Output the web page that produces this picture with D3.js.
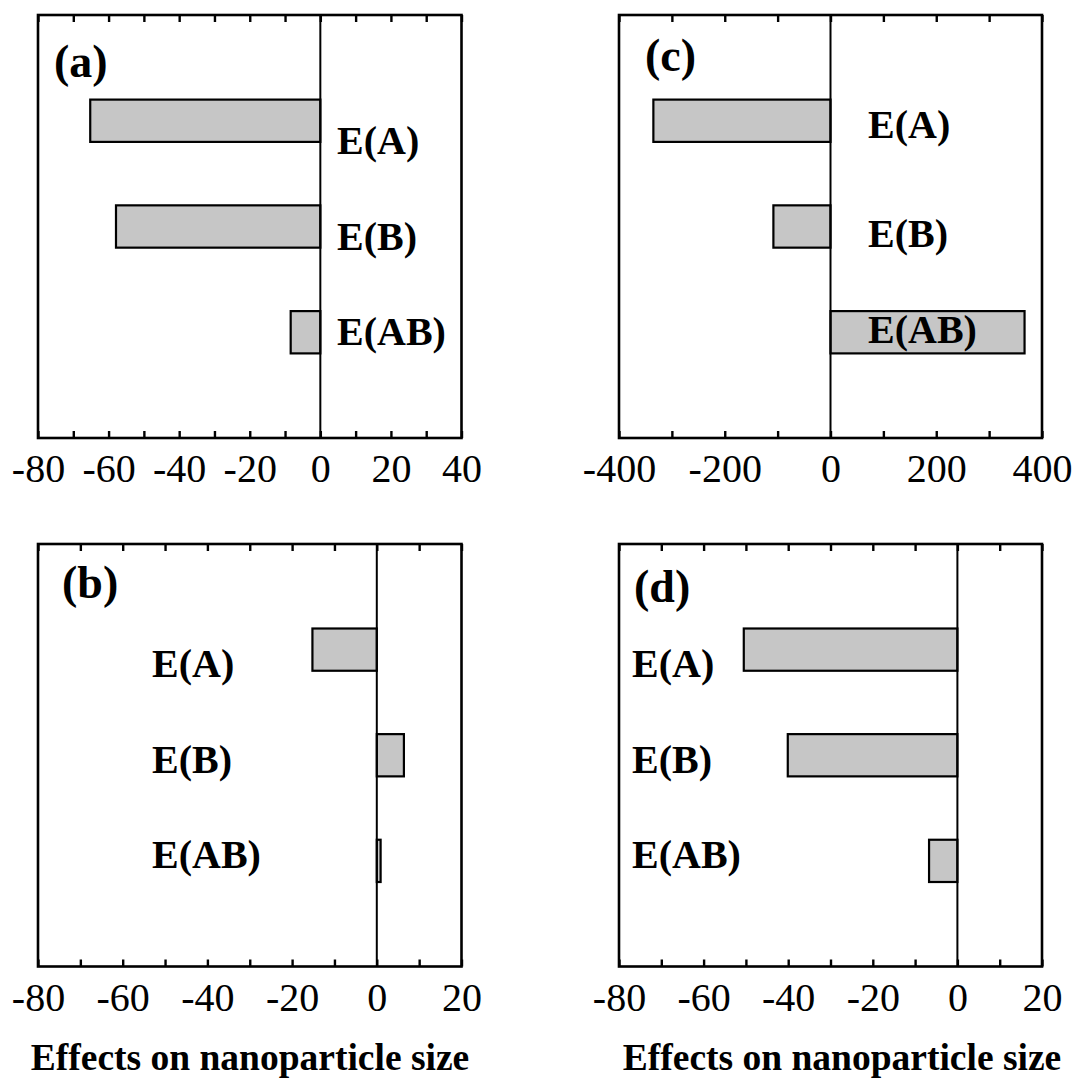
<!DOCTYPE html>
<html>
<head>
<meta charset="utf-8">
<script src="https://cdn.jsdelivr.net/npm/d3@7"></script>
<style>
  body { margin: 0; background: #fff; }
  svg text { font-family: "Liberation Serif", "Times New Roman", serif; fill: #000; }
</style>
</head>
<body>
<div id="chart-area"></div>
<script>
// effect names and values
const effects = ["E(A)", "E(B)", "E(AB)"];
const valuesA = [-65.2, -57.9, -8.4];
const valuesB = [-15.2, 6.4, 0.9];
const valuesC = [-335, -108, 367];
const valuesD = [-50.5, -40.1, -6.7];

const panelLetters = ["(a)", "(b)", "(c)", "(d)"];
const ticksA = [-80, -60, -40, -20, 0, 20, 40];
const ticksBD = [-80, -60, -40, -20, 0, 20];
const ticksC = [-400, -200, 0, 200, 400];
const axisTitle = "Effects on nanoparticle size";

const W = 1076, H = 1090;

// layout of each panel (pixels), label anchors kept here, not in the data
const panels = [
  { letter: panelLetters[0], values: valuesA, ticks: ticksA, minor: 10,
    box: [38, 461.5, 15, 438], letterPos: [16, 62],
    labelX: 299, labelY: [139, 235, 330] },
  { letter: panelLetters[1], values: valuesB, ticks: ticksBD, minor: 10,
    box: [38, 461.5, 544, 966.5], letterPos: [24, 54],
    labelX: 114, labelY: [133, 229, 324] },
  { letter: panelLetters[2], values: valuesC, ticks: ticksC, minor: 100,
    box: [619, 1042, 15, 438], letterPos: [26, 56],
    labelX: 249, labelY: [123, 232, 328] },
  { letter: panelLetters[3], values: valuesD, ticks: ticksBD, minor: 10,
    box: [619, 1042, 544, 966.5], letterPos: [15, 58],
    labelX: 13, labelY: [133, 229, 324] }
];

const svg = d3.select("#chart-area")
  .append("svg")
  .attr("width", W)
  .attr("height", H);

panels.forEach(p => {
  const [x0, x1, y0, y1] = p.box;
  const dom = [p.ticks[0], p.ticks[p.ticks.length - 1]];
  const x = d3.scaleLinear().domain(dom).range([x0, x1]);
  const y = d3.scaleLinear().domain([0, 4]).range([y0, y1]);
  const barH = y(0.4) - y(0);

  const minorTicks = d3.range(dom[0], dom[1] + p.minor / 2, p.minor);

  const g = svg.append("g");

  // bars
  g.selectAll("rect.bar")
    .data(p.values)
    .enter()
    .append("rect")
    .attr("class", "bar")
    .attr("x", d => x(Math.min(0, d)))
    .attr("width", d => Math.abs(x(d) - x(0)))
    .attr("y", (d, i) => y(i + 1) - barH / 2)
    .attr("height", barH)
    .attr("fill", "#c6c6c6")
    .attr("stroke", "#000")
    .attr("stroke-width", 2.2);

  // zero line
  g.append("line")
    .attr("x1", x(0)).attr("x2", x(0))
    .attr("y1", y0).attr("y2", y1)
    .attr("stroke", "#000")
    .attr("stroke-width", 2);

  // bottom axis with labels on major ticks
  const bottom = g.append("g")
    .attr("transform", `translate(0,${y1})`)
    .call(d3.axisBottom(x)
      .tickValues(minorTicks)
      .tickSizeInner(-7)
      .tickSizeOuter(0)
      .tickPadding(16)
      .tickFormat(d => p.ticks.includes(d) ? String(d) : ""));
  bottom.select(".domain").remove();
  bottom.selectAll("line").attr("stroke", "#000").attr("stroke-width", 2.4);
  bottom.selectAll("text")
    .attr("font-size", 40)
    .style("font-family", '"Liberation Serif", serif');

  const top = g.append("g")
    .attr("transform", `translate(0,${y0})`)
    .call(d3.axisTop(x)
      .tickValues(minorTicks)
      .tickSizeInner(-7)
      .tickSizeOuter(0)
      .tickFormat(""));
  top.select(".domain").remove();
  top.selectAll("line").attr("stroke", "#000").attr("stroke-width", 2.4);

  // frame
  g.append("rect")
    .attr("x", x0).attr("y", y0)
    .attr("width", x1 - x0).attr("height", y1 - y0)
    .attr("fill", "none")
    .attr("stroke", "#000")
    .attr("stroke-width", 2.6);

  // effect labels
  g.selectAll("text.effect")
    .data(effects)
    .enter()
    .append("text")
    .attr("class", "effect")
    .attr("x", x0 + p.labelX)
    .attr("y", (d, i) => y0 + p.labelY[i])
    .attr("font-size", 40)
    .attr("font-weight", "bold")
    .text(d => d);

  // panel letter
  g.append("text")
    .attr("x", x0 + p.letterPos[0])
    .attr("y", y0 + p.letterPos[1])
    .attr("font-size", 46)
    .attr("font-weight", "bold")
    .text(p.letter);
});

// x axis titles under each column
[250, 842].forEach(cx => {
  svg.append("text")
    .attr("x", cx)
    .attr("y", 1070)
    .attr("text-anchor", "middle")
    .attr("font-size", 37.5)
    .attr("font-weight", "bold")
    .text(axisTitle);
});
</script>
</body>
</html>
